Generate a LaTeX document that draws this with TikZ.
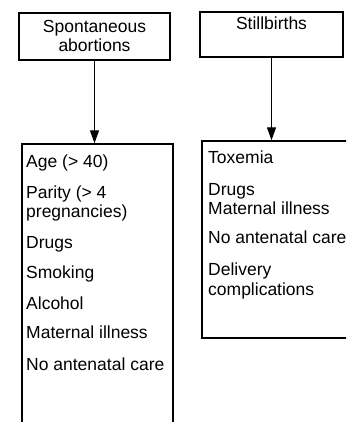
\documentclass[tikz,border=0pt]{standalone}
\usepackage{fontspec}
\setmainfont{Liberation Sans}
\usetikzlibrary{arrows.meta}
\begin{document}
\begin{tikzpicture}[x=1pt,y=-1pt,
  box/.style={draw, line width=1.4pt, rectangle, inner sep=0pt},
  txt/.style={inner sep=0pt, font=\fontsize{17.5}{19.5}\selectfont},
  lbl/.style={txt, anchor=base west},
  arr/.style={line width=1.1pt, -{Triangle[length=13pt,width=9pt]}}]
\useasboundingbox (0,0) rectangle (346,422);
\clip (0,0) rectangle (346,422);
% top boxes
\node[box, minimum width=151pt, minimum height=47pt] (sa) at (94.5,36.5) {};
\node[txt, anchor=base] (satext1) at (94.5,33) {Spontaneous};
\node[txt, anchor=base] (satext2) at (94.5,52) {abortions};
\node[box, minimum width=143pt, minimum height=45pt] (sb) at (271.5,34.5) {};
\node[txt, anchor=base] (sbtext) at (271.5,30) {Stillbirths};
% bottom boxes
\node[box, minimum width=151pt, minimum height=296pt] (bl) at (97.5,292) {};
\node[box, minimum width=150pt, minimum height=197pt] (br) at (277,239.5) {};
% arrows
\draw[arr] (sa.south) -- (sa.south |- bl.north);
\draw[arr] (sb.south) -- (sb.south |- br.north);
% left list
\node[lbl] (l1) at (26,167) {Age (> 40)};
\node[lbl] (l2a) at (26,198) {Parity (> 4};
\node[lbl] (l2b) at (26,217) {pregnancies)};
\node[lbl] (l3) at (26,248) {Drugs};
\node[lbl] (l4) at (26,278) {Smoking};
\node[lbl] (l5) at (26,309) {Alcohol};
\node[lbl] (l6) at (26,338) {Maternal illness};
\node[lbl] (l7) at (26,370) {No antenatal care};
% right list
\node[lbl] (r1) at (208,163) {Toxemia};
\node[lbl] (r2a) at (208,195) {Drugs};
\node[lbl] (r2b) at (208,214) {Maternal illness};
\node[lbl] (r3) at (208,243) {No antenatal care};
\node[lbl] (r4a) at (208,275) {Delivery};
\node[lbl] (r4b) at (208,295) {complications};
\end{tikzpicture}
\end{document}
